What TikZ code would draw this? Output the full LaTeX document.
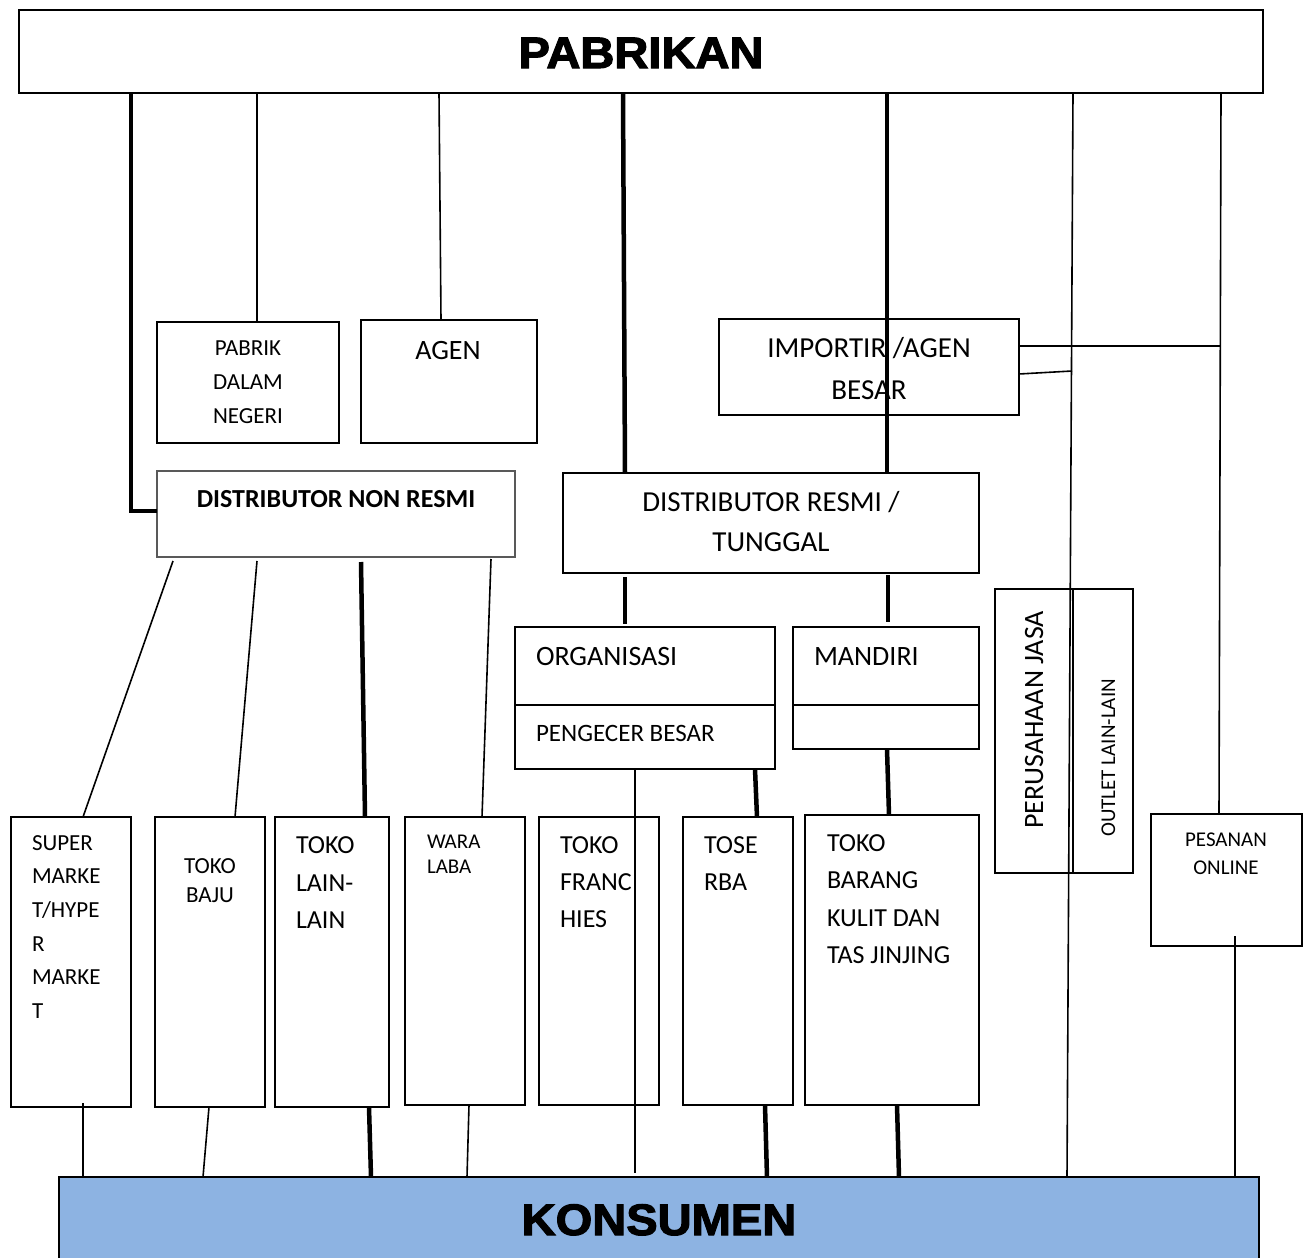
\documentclass[tikz,border=0pt]{standalone}
\usepackage{fontspec}
\setmainfont{Carlito}
\newfontfamily\heavyfont{Liberation Sans Bold}[FakeBold=2.5]
\usetikzlibrary{calc}
\definecolor{konblue}{HTML}{8DB3E2}
\newcommand\fsz[1]{\fontsize{#1}{#1}\selectfont}
\begin{document}
\begin{tikzpicture}[x=1pt,y=-1pt,
  box/.style={draw, line width=1.8pt, inner sep=0pt, outer sep=0pt, anchor=north west},
  thinline/.style={line width=1.6pt},
  thickline/.style={line width=4.5pt},
  txt/.style={inner sep=0pt, outer sep=0pt},
  heavy/.style={font=\heavyfont\fsz{44}}]
\useasboundingbox (0,0) rectangle (1307,1258);
\fill[white] (0,0) rectangle (1307,1258);

% boxes
\node[box, minimum width=1244pt, minimum height=83pt] (pab) at (19,10) {};
\node[box, minimum width=182pt, minimum height=121pt] (pdn) at (157,322) {};
\node[box, minimum width=176pt, minimum height=123pt] (agen) at (361,320) {};
\node[box, minimum width=300pt, minimum height=96pt] (imp) at (719,319) {};
\node[box, draw=black!65, line width=1.5pt, minimum width=358pt, minimum height=86pt] (dnr) at (157,471) {};
\node[box, minimum width=416pt, minimum height=100pt] (dr) at (563,473) {};
\node[box, minimum width=260pt, minimum height=142pt] (org) at (515,627) {};
\node[box, minimum width=186pt, minimum height=122pt] (man) at (793,627) {};
\node[box, minimum width=78pt, minimum height=284pt] (pj) at (995,589) {};
\node[box, minimum width=60pt, minimum height=284pt] (out) at (1073,589) {};
\node[box, minimum width=151pt, minimum height=132pt] (pes) at (1151,814) {};
\node[box, minimum width=120pt, minimum height=290pt] (sup) at (11,817) {};
\node[box, minimum width=110pt, minimum height=290pt] (baju) at (155,817) {};
\node[box, minimum width=114pt, minimum height=290pt] (lain) at (275,817) {};
\node[box, minimum width=120pt, minimum height=288pt] (wara) at (405,817) {};
\node[box, minimum width=120pt, minimum height=288pt] (fran) at (539,817) {};
\node[box, minimum width=110pt, minimum height=288pt] (tos) at (683,817) {};
\node[box, minimum width=174pt, minimum height=290pt] (tbk) at (805,815) {};
\node[box, fill=konblue, minimum width=1200pt, minimum height=100pt] (kon) at (59,1177) {};

% dividers
\draw[line width=1.8pt] ($(org.north west)+(0,78)$) -- ($(org.north east)+(0,78)$);
\draw[line width=1.8pt] ($(man.north west)+(0,78)$) -- ($(man.north east)+(0,78)$);

% connectors from PABRIKAN
\draw[thickline] ($(pab.south west)+(112,0)$) |- ($(dnr.north west)+(0,40)$);
\draw[thinline] ($(pab.south west)+(238,0)$) -- ($(pdn.north west)+(100,0)$);
\draw[thinline] ($(pab.south west)+(420,0)$) -- ($(agen.north west)+(80,0)$);
\draw[thickline] ($(pab.south west)+(604,0)$) -- ($(dr.north west)+(62,0)$);
\draw[thickline] ($(pab.south west)+(868,0)$) -- ($(dr.north west)+(324,0)$);
\draw[thinline] ($(pab.south west)+(1054,0)$) -- ($(kon.north west)+(1008,0)$);
\draw[thinline] ($(pab.south west)+(1202,0)$) -- ($(pes.north west)+(68,0)$);
\draw[thinline] ($(imp.north east)+(0,27)$) -- ($(pab.south west)+(1202,253)$);
\draw[thinline] ($(imp.north east)+(0,55)$) -- ($(pab.south west)+(1053,278)$);

% from distributor resmi
\draw[thickline] ($(dr.south west)+(62,4)$) -- ($(org.north west)+(110,-3)$);
\draw[thickline] ($(dr.south west)+(325,2)$) -- ($(man.north west)+(95,-5)$);

% from distributor non resmi
\draw[thinline] ($(dnr.south west)+(16,4)$) -- ($(sup.north west)+(72,0)$);
\draw[thinline] ($(dnr.south west)+(100,4)$) -- ($(baju.north west)+(80,0)$);
\draw[thickline] ($(dnr.south west)+(204,5)$) -- ($(lain.north west)+(90,0)$);
\draw[thinline] ($(dnr.south west)+(334,2)$) -- ($(wara.north west)+(77,0)$);

% from organisasi / mandiri
\draw[thinline] ($(org.south west)+(120,0)$) -- ($(kon.north west)+(576,-4)$);
\draw[thickline] ($(org.south west)+(240,0)$) -- ($(tos.north west)+(74,0)$);
\draw[thickline] ($(man.south west)+(94,0)$) -- ($(tbk.north west)+(84,0)$);

% to konsumen
\draw[thinline] ($(sup.south west)+(72,-4)$) -- ($(kon.north west)+(24,0)$);
\draw[thinline] ($(baju.south west)+(54,0)$) -- ($(kon.north west)+(144,0)$);
\draw[thickline] ($(lain.south west)+(94,0)$) -- ($(kon.north west)+(312,0)$);
\draw[thinline] ($(wara.south west)+(64,0)$) -- ($(kon.north west)+(408,0)$);
\draw[thickline] ($(tos.south west)+(82,0)$) -- ($(kon.north west)+(708,0)$);
\draw[thickline] ($(tbk.south west)+(92,0)$) -- ($(kon.north west)+(840,0)$);
\draw[thinline] ($(pes.south west)+(84,-10)$) -- ($(kon.north west)+(1176,0)$);

% texts
\node[txt, heavy, anchor=base] (pabt) at (641,68) {\scalebox{1.07}[1]{PABRIKAN}};
\node[txt, heavy, anchor=base] (kont) at (659,1235) {\scalebox{1.07}[1]{KONSUMEN}};

\node[txt, anchor=base, font=\fsz{23}] (pdn1) at (248,355) {PABRIK};
\node[txt, anchor=base, font=\fsz{23}] (pdn2) at (248,389) {DALAM};
\node[txt, anchor=base, font=\fsz{23}] (pdn3) at (248,423) {NEGERI};
\node[txt, anchor=base, font=\fsz{28}] (agent) at (448,359) {AGEN};
\node[txt, anchor=base, font=\bfseries\fsz{26}] (dnrt) at (336,507) {DISTRIBUTOR NON RESMI};
\node[txt, anchor=base, font=\fsz{29}] (imp1) at (869,357) {IMPORTIR /AGEN};
\node[txt, anchor=base, font=\fsz{29}] (imp2) at (869,399) {BESAR};
\node[txt, anchor=base, font=\fsz{29}] (dr1) at (771,511) {DISTRIBUTOR RESMI /};
\node[txt, anchor=base, font=\fsz{29}] (dr2) at (771,551) {TUNGGAL};
\node[txt, anchor=base west, font=\fsz{28}] (org1) at (536,665) {ORGANISASI};
\node[txt, anchor=base west, font=\fsz{25}] (org2) at (536,741) {PENGECER BESAR};
\node[txt, anchor=base west, font=\fsz{28}] (mant) at (814,665) {MANDIRI};
\node[txt, anchor=base, rotate=90, font=\fsz{28}] (pjt) at (1043,720) {PERUSAHAAN JASA};
\node[txt, anchor=base, rotate=90, font=\fsz{21}] (outt) at (1115,758) {OUTLET LAIN-LAIN};
\node[txt, anchor=base, font=\fsz{21}] (pes1) at (1226,846) {PESANAN};
\node[txt, anchor=base, font=\fsz{21}] (pes2) at (1226,874) {ONLINE};

\node[txt, anchor=base west, font=\fsz{23}] (sup1) at (32,850) {SUPER};
\node[txt, anchor=base west, font=\fsz{23}] (sup2) at (32,883) {MARKE};
\node[txt, anchor=base west, font=\fsz{23}] (sup3) at (32,917) {T/HYPE};
\node[txt, anchor=base west, font=\fsz{23}] (sup4) at (32,951) {R};
\node[txt, anchor=base west, font=\fsz{23}] (sup5) at (32,984) {MARKE};
\node[txt, anchor=base west, font=\fsz{23}] (sup6) at (32,1018) {T};
\node[txt, anchor=base, font=\fsz{23}] (baju1) at (210,873) {TOKO};
\node[txt, anchor=base, font=\fsz{23}] (baju2) at (210,902) {BAJU};
\node[txt, anchor=base west, font=\fsz{26}] (lain1) at (296,853) {TOKO};
\node[txt, anchor=base west, font=\fsz{26}] (lain2) at (296,891) {LAIN-};
\node[txt, anchor=base west, font=\fsz{26}] (lain3) at (296,928) {LAIN};
\node[txt, anchor=base west, font=\fsz{21}] (wara1) at (427,848) {WARA};
\node[txt, anchor=base west, font=\fsz{21}] (wara2) at (427,873) {LABA};
\node[txt, anchor=base west, font=\fsz{26}] (fran1) at (560,853) {TOKO};
\node[txt, anchor=base west, font=\fsz{26}] (fran2) at (560,890) {FRANC};
\node[txt, anchor=base west, font=\fsz{26}] (fran3) at (560,927) {HIES};
\node[txt, anchor=base west, font=\fsz{26}] (tos1) at (704,853) {TOSE};
\node[txt, anchor=base west, font=\fsz{26}] (tos2) at (704,890) {RBA};
\node[txt, anchor=base west, font=\fsz{26}] (tbk1) at (827,851) {TOKO};
\node[txt, anchor=base west, font=\fsz{26}] (tbk2) at (827,888) {BARANG};
\node[txt, anchor=base west, font=\fsz{26}] (tbk3) at (827,926) {KULIT DAN};
\node[txt, anchor=base west, font=\fsz{26}] (tbk4) at (827,963) {TAS JINJING};
\end{tikzpicture}
\end{document}
